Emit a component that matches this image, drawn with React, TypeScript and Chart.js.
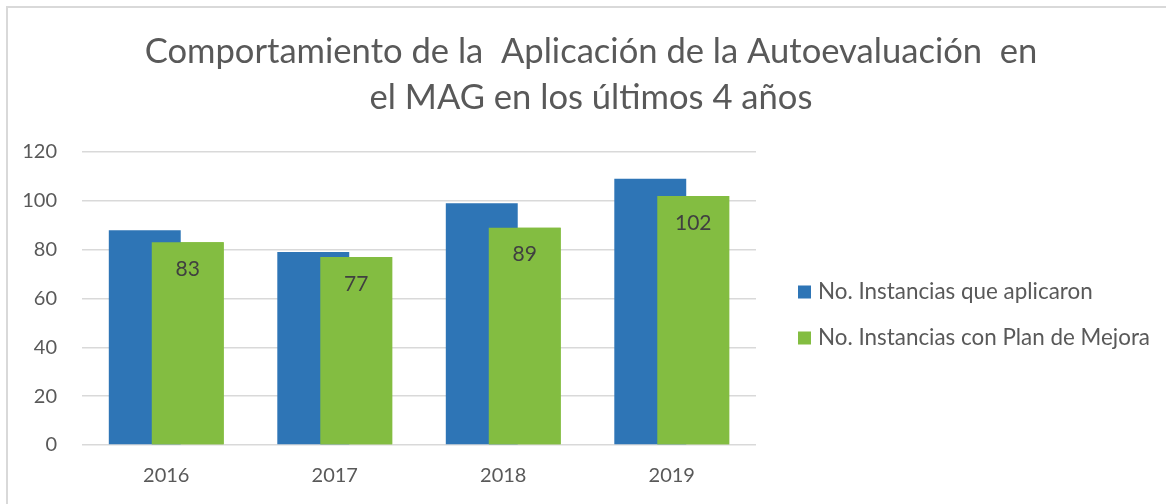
import React, { useEffect, useRef } from "react";
import { Chart, registerables } from "chart.js";

Chart.register(...registerables);

const categories = ["2016", "2017", "2018", "2019"];
const seriesNames = ["No. Instancias que aplicaron", "No. Instancias con Plan de Mejora"];
const aplicaron = [88, 79, 99, 109];
const planMejora = [83, 77, 89, 102];
const titleLines = ["Comportamiento de la  Aplicación de la Autoevaluación  en", "el MAG en los últimos 4 años"];
const yTicks = { min: 0, max: 120, step: 20 };

const FONT = "Lato";
const TEXT = "#595959";

const borderPlugin = {
  id: "frameBorder",
  beforeDraw(chart: any) {
    const ctx = chart.ctx;
    ctx.save();
    ctx.fillStyle = "#ffffff";
    ctx.fillRect(0, 0, chart.width, chart.height);
    ctx.strokeStyle = "#d9d9d9";
    ctx.lineWidth = 2;
    ctx.strokeRect(7, 7, chart.width + 50, chart.height + 50);
    ctx.restore();
  },
};

const labelPlugin = {
  id: "greenLabels",
  afterDatasetsDraw(chart: any) {
    const ctx = chart.ctx;
    const meta = chart.getDatasetMeta(1);
    // green series sits in front of the blue one, as in the reference
    meta.controller.draw();
    const ds = chart.data.datasets[1];
    ctx.save();
    ctx.font = `21px ${FONT}`;
    ctx.fillStyle = "#404040";
    ctx.textAlign = "center";
    ctx.textBaseline = "middle";
    meta.data.forEach((el: any, i: number) => {
      ctx.fillText(String(ds.data[i]), el.x, el.y + 27);
    });
    ctx.restore();
  },
};

const legendPlugin = {
  id: "sideLegend",
  afterDraw(chart: any) {
    const ctx = chart.ctx;
    const x0 = chart.chartArea.right + 42;
    const ys = [292, 338];
    ctx.save();
    ctx.font = `22.4px ${FONT}`;
    ctx.textBaseline = "middle";
    ctx.textAlign = "left";
    chart.data.datasets.forEach((ds: any, i: number) => {
      const y = ys[i];
      ctx.fillStyle = ds.backgroundColor;
      ctx.fillRect(x0, y - 6.5, 13, 13);
      ctx.fillStyle = TEXT;
      ctx.fillText(ds.label, x0 + 20, y);
    });
    ctx.restore();
  },
};

export default function App() {
  const ref = useRef<HTMLCanvasElement | null>(null);
  useEffect(() => {
    document.body.style.margin = "0";
    if (!ref.current) return;
    const chart = new Chart(ref.current, {
      type: "bar",
      data: {
        labels: categories,
        datasets: [
          {
            label: seriesNames[0],
            data: aplicaron,
            backgroundColor: "#2E75B6",
            categoryPercentage: 0.51,
            barPercentage: 1.674,
          },
          {
            label: seriesNames[1],
            data: planMejora,
            backgroundColor: "#83BD41",
            categoryPercentage: 0.51,
            barPercentage: 1.674,
          },
        ],
      },
      options: {
        responsive: false,
        animation: false,
        layout: { padding: { left: 16, right: 0, top: 0, bottom: 0 } },
        plugins: {
          legend: { display: false },
          tooltip: { enabled: false },
          title: {
            display: true,
            text: titleLines,
            color: TEXT,
            font: { family: FONT, size: 34.6, weight: "normal", lineHeight: "46px" },
            padding: { top: 29, bottom: 31 },
          },
        },
        scales: {
          x: {
            grid: { display: false, drawTicks: false },
            border: { display: false },
            ticks: { color: TEXT, font: { family: FONT, size: 20 }, padding: 19 },
            afterFit: (s: any) => {
              s.height = 59;
            },
          },
          y: {
            min: yTicks.min,
            max: yTicks.max,
            grid: { color: "#d9d9d9", lineWidth: 1.5, drawTicks: false },
            border: { display: false },
            ticks: { stepSize: yTicks.step, color: TEXT, font: { family: FONT, size: 20 }, padding: 25 },
            afterFit: (s: any) => {
              s.width = 66;
            },
          },
          yR: {
            position: "right",
            display: true,
            grid: { display: false },
            border: { display: false },
            ticks: { display: false },
            afterFit: (s: any) => {
              s.width = 410;
            },
          },
        },
      },
      plugins: [borderPlugin, labelPlugin, legendPlugin],
    });
    return () => chart.destroy();
  }, []);
  return (
    <div style={{ width: 1166, height: 504 }}>
      <canvas ref={ref} width={1166} height={504} />
    </div>
  );
}
